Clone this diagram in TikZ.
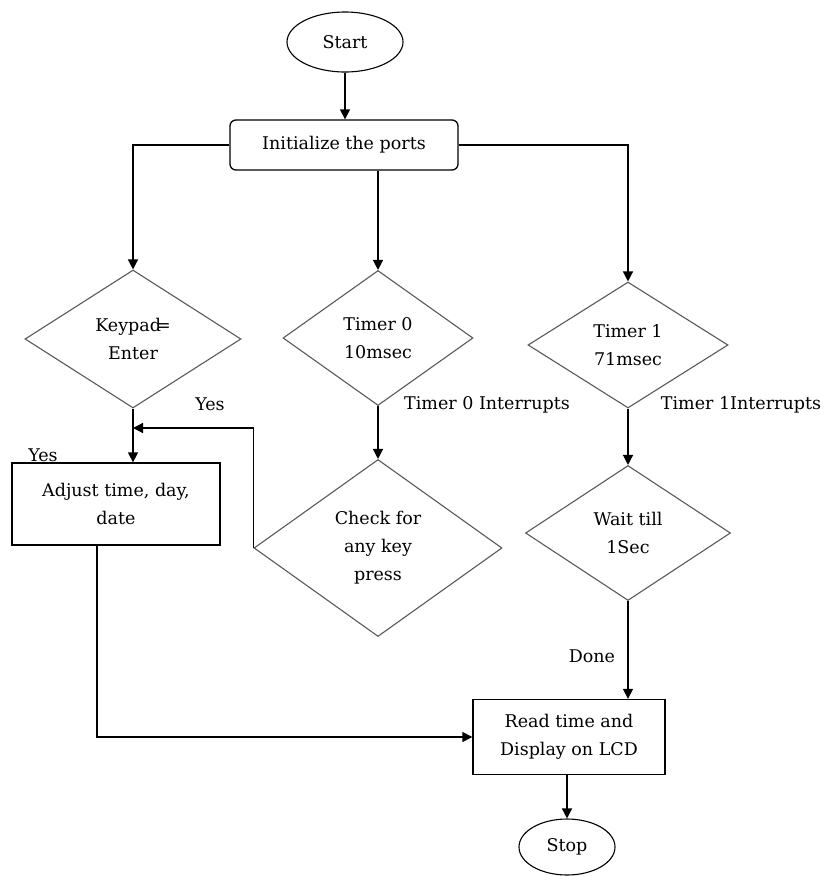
\documentclass[tikz,border=0pt]{standalone}
\usepackage{fontspec}
\setmainfont{DejaVu Serif}
\usetikzlibrary{arrows.meta, positioning, shapes.geometric}

\begin{document}
\begin{tikzpicture}[
      x=1pt, y=-1pt,
      every node/.style={font=\fontsize{17.5}{28}\selectfont, align=center, inner sep=0pt},
      term/.style={draw, ellipse, line width=1.1pt},
      box/.style={draw, line width=1.3pt, minimum width=#1},
      decide/.style={draw=black!65, diamond, line width=1.1pt},
      lbl/.style={font=\fontsize{17.5}{28}\selectfont},
      flow/.style={line width=1.3pt, ->},
      >={Triangle[length=10pt, width=10pt]}
    ]
    \useasboundingbox (0,0) rectangle (825,876);

    \node[term, minimum width=116, minimum height=60] (start) at (345,42) {Start};
    \node[box=228, minimum height=50, rounded corners=6pt] (init) at (344,145) {Initialize the ports};

    \node[decide, minimum width=216, minimum height=138] (keypad) at (133,339) {Keypad\kern-5pt=\\Enter};
    \node[decide, minimum width=190, minimum height=135] (timerA) at (378,338) {Timer 0\\10msec};
    \node[decide, minimum width=200, minimum height=126] (timerB) at (628,345) {Timer 1\\71msec};

    \node[box=208, minimum height=82] (adjust) at (116,504) {Adjust time, day,\\date};
    \node[decide, minimum width=248, minimum height=177] (check) at (378,548) {Check for\\any key\\press};
    \node[decide, minimum width=205, minimum height=135] (wait) at (628,533) {Wait till\\1Sec};

    \node[box=192, minimum height=75] (read) at (569,737) {Read time and\\Display on LCD};
    \node[term, minimum width=96, minimum height=56] (stop) at (567,847) {Stop};

    \coordinate (join) at (133,428);

    \draw[flow] (start) -- (start |- init.north);
    \draw[flow] (init.west) -| (keypad.north);
    \draw[flow] (timerA.north |- init.south) -- (timerA.north);
    \draw[flow] (init.east) -| (timerB.north);
    \draw[flow] (keypad.south) -- (keypad.south |- adjust.north);
    \draw[flow] (check.west) |- (join);
    \draw[flow] (timerA.south) -- (check.north);
    \draw[flow] (timerB.south) -- (wait.north);
    \draw[flow] (wait.south) -- (wait.south |- read.north);
    \draw[flow] ([xshift=-19pt]adjust.south) |- (read.west);
    \draw[flow] (read.south -| stop.north) -- (stop.north);

    \node[lbl] (yesA) at (210,404) {Yes};
    \node[lbl] (yesB) at (43,455) {Yes};
    \node[lbl] (intA) at (487,405) {Timer 0 Interrupts};
    \node[lbl] (intB) at (741,405) {Timer 1Interrupts};
    \node[lbl] (done) at (592,656) {Done};
  \end{tikzpicture}
\end{document}
